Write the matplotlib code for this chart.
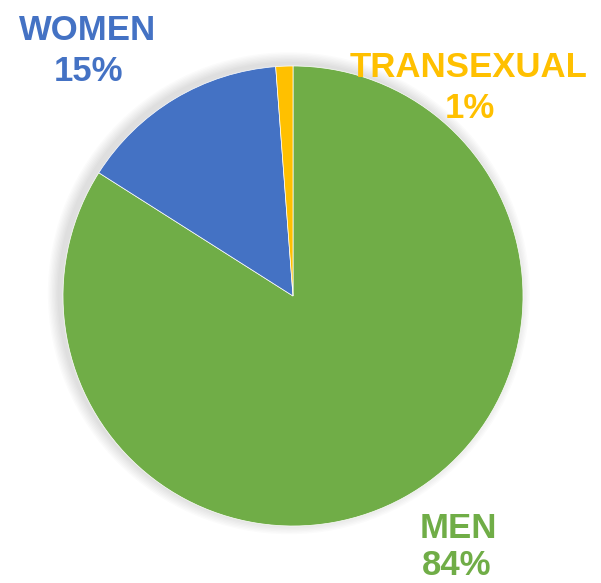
import matplotlib.pyplot as plt
from matplotlib.patches import Circle

labels = ['MEN', 'WOMEN', 'TRANSEXUAL']
shares = [84.0, 14.8, 1.2]
colors = ['#70AD47', '#4472C4', '#FFC000']

# pixel layout of the reference
W, H = 601, 583
cx, cy, R = 293, 296, 230

fig = plt.figure(figsize=(W / 100, H / 100), dpi=100)
ax = fig.add_axes([0, 0, 1, 1])

def px(x, y):
    return (x - cx) / R, (cy - y) / R

# soft shadow, offset up-left
for i in range(8):
    ax.add_patch(Circle((-0.018, 0.012), 1.0 + 0.006 * (i + 1), color='black',
                        alpha=0.016, lw=0, zorder=0))

ax.pie(shares, colors=colors, startangle=90, counterclock=False, radius=1,
       wedgeprops=dict(linewidth=0.5, edgecolor='white'))
ax.set_xlim(-cx / R, (W - cx) / R)
ax.set_ylim(-(H - cy) / R, cy / R)
ax.set_aspect('equal')
ax.axis('off')

font = dict(family=['Liberation Sans', 'DejaVu Sans'], fontweight='bold',
            fontsize=25, ha='center', va='baseline')
pos = {'WOMEN': [(88, 40), (88, 81)],
       'TRANSEXUAL': [(469, 77), (470, 118)],
       'MEN': [(458, 538), (457, 575)]}
for lab, val, col in zip(labels, shares, colors):
    (x1, y1), (x2, y2) = pos[lab]
    ax.text(*px(x1, y1), lab, color=col, **font)
    ax.text(*px(x2, y2), f'{round(val)}%', color=col, **font)

fig.savefig('out.png', dpi=100)
